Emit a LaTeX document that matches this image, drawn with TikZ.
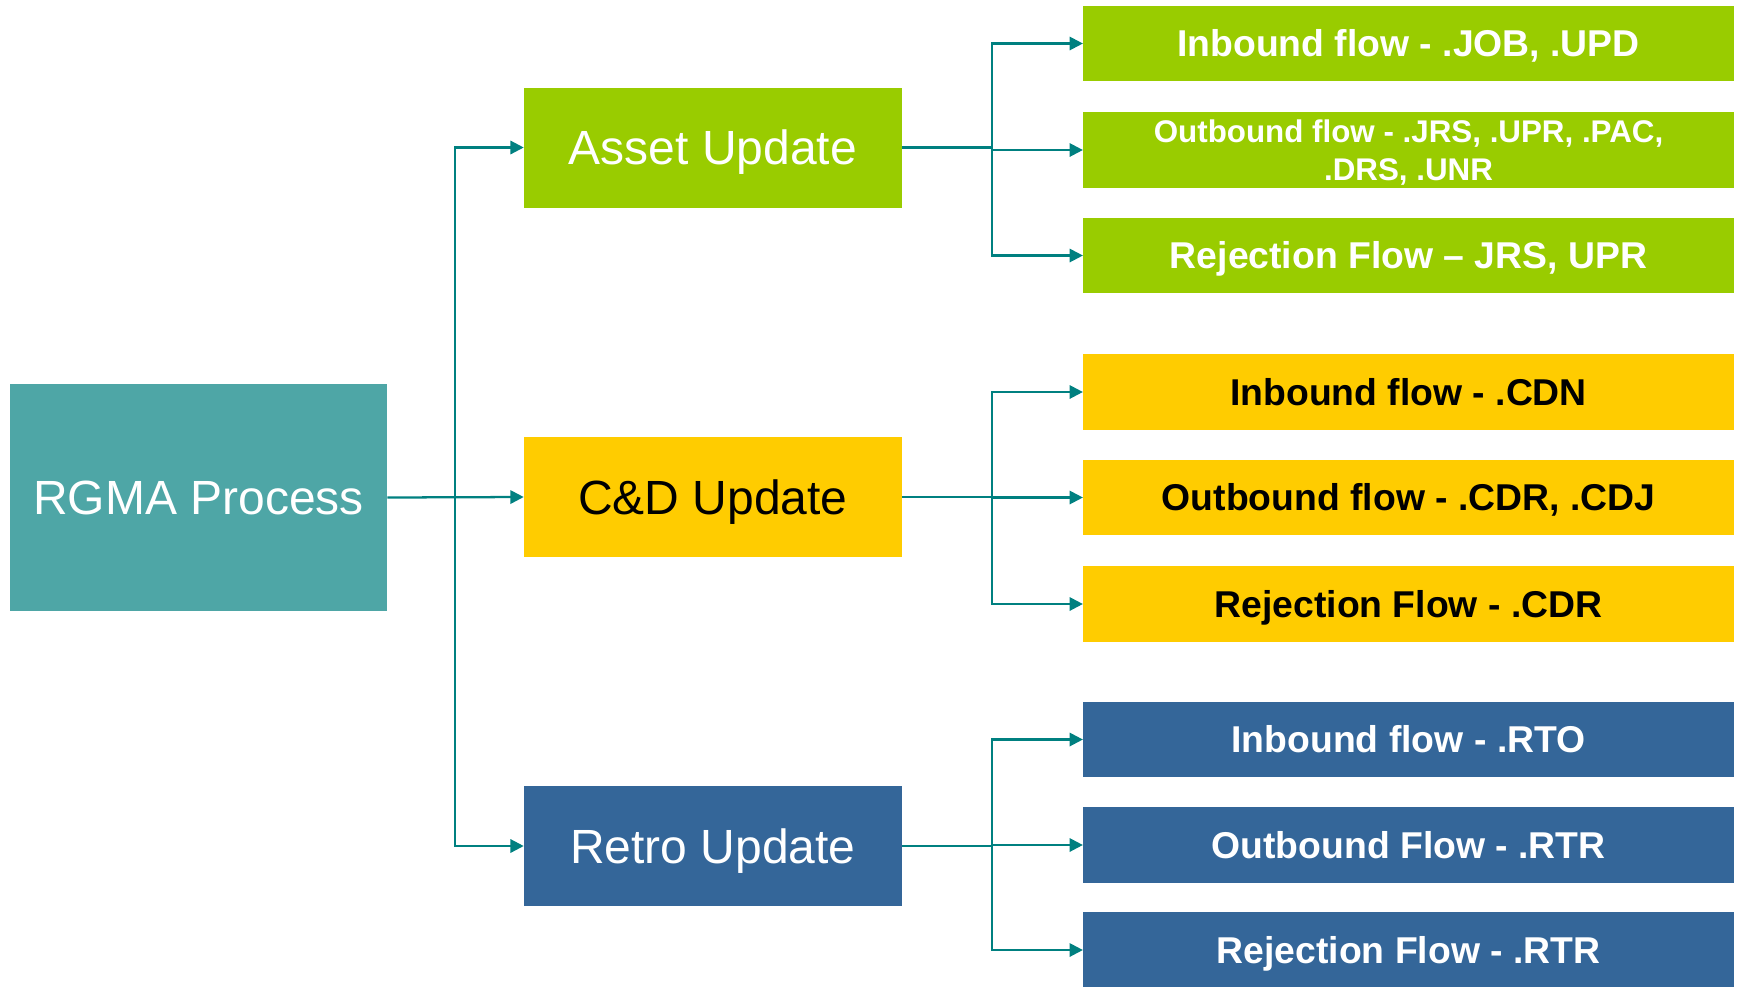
\documentclass[tikz,border=0pt]{standalone}
\usepackage{fontspec}
\setmainfont{Liberation Sans}
\usetikzlibrary{arrows.meta}
\definecolor{cgreen}{HTML}{99CC00}
\definecolor{cyellow}{HTML}{FFCC00}
\definecolor{cblue}{HTML}{346699}
\definecolor{cteal}{HTML}{4EA6A6}
\definecolor{cline}{HTML}{008080}
\begin{document}
\begin{tikzpicture}[x=0.75pt,y=-0.75pt,
  box/.style={rectangle, draw=none, inner sep=0pt, align=center},
  bigcaps/.style={text height=25.8pt, text depth=0pt},
  leafcaps/.style={text height=20pt, text depth=0pt},
  mid/.style={box, bigcaps, minimum width=283.5pt, minimum height=90pt, font=\fontsize{36}{40}\selectfont},
  leaf/.style={box, minimum width=488pt, minimum height=56.5pt, font=\bfseries\fontsize{28}{30}\selectfont},
  conn/.style={draw=cline, line width=1.7pt, -{Triangle[length=10pt,width=10pt]}},
  plain/.style={draw=cline, line width=1.7pt}]
\useasboundingbox (0,0) rectangle (1741,986);
\clip (0,0) rectangle (1741,986);
% main node
\node[box, bigcaps, fill=cteal, text=white, minimum width=282.75pt, minimum height=170pt,
  font=\fontsize{36}{40}\selectfont] (rgma) at (198.5,497.5) {RGMA Process};
% middle nodes
\node[mid, fill=cgreen, text=white] (asset) at (713,147.5) {Asset Update};
\node[mid, fill=cyellow, text=black] (cd) at (713,497) {C\&D Update};
\node[mid, fill=cblue, text=white] (retro) at (713,846) {Retro Update};
% leaves
\node[leaf, leafcaps, fill=cgreen, text=white] (g1) at (1408.5,43.5) {Inbound flow - .JOB, .UPD};
\node[leaf, fill=cgreen, text=white, text depth=0pt, font=\bfseries\fontsize{23.5}{28.5}\selectfont] (g2) at (1408.5,150) {Outbound flow - .JRS, .UPR, .PAC,\\.DRS, .UNR};
\node[leaf, leafcaps, fill=cgreen, text=white] (g3) at (1408.5,255.5) {Rejection Flow – JRS, UPR};
\node[leaf, leafcaps, fill=cyellow, text=black] (y1) at (1408.5,392) {Inbound flow - .CDN};
\node[leaf, leafcaps, fill=cyellow, text=black] (y2) at (1408.5,497.5) {Outbound flow - .CDR, .CDJ};
\node[leaf, leafcaps, fill=cyellow, text=black] (y3) at (1408.5,604) {Rejection Flow - .CDR};
\node[leaf, leafcaps, fill=cblue, text=white] (b1) at (1408.5,739.5) {Inbound flow - .RTO};
\node[leaf, leafcaps, fill=cblue, text=white] (b2) at (1408.5,845) {Outbound Flow - .RTR};
\node[leaf, leafcaps, fill=cblue, text=white] (b3) at (1408.5,950) {Rejection Flow - .RTR};
% junction coordinates
\coordinate (t0) at (455,497);
\coordinate (ta) at (992,147.5);
\coordinate (tc) at (992,497);
\coordinate (tr) at (992,846);
% connectors from main
\draw[conn] (rgma.east) -- (cd.west);
\draw[conn] (t0) |- (asset.west);
\draw[conn] (t0) |- (retro.west);
% asset branch
\draw[plain] (asset.east) -- (ta);
\draw[conn] (ta) |- (g1.west);
\draw[conn] (ta) |- (g2.west);
\draw[conn] (ta) |- (g3.west);
% c&d branch
\draw[plain] (cd.east) -- (tc);
\draw[conn] (tc) |- (y1.west);
\draw[conn] (tc) |- (y2.west);
\draw[conn] (tc) |- (y3.west);
% retro branch
\draw[plain] (retro.east) -- (tr);
\draw[conn] (tr) |- (b1.west);
\draw[conn] (tr) |- (b2.west);
\draw[conn] (tr) |- (b3.west);
\end{tikzpicture}
\end{document}
